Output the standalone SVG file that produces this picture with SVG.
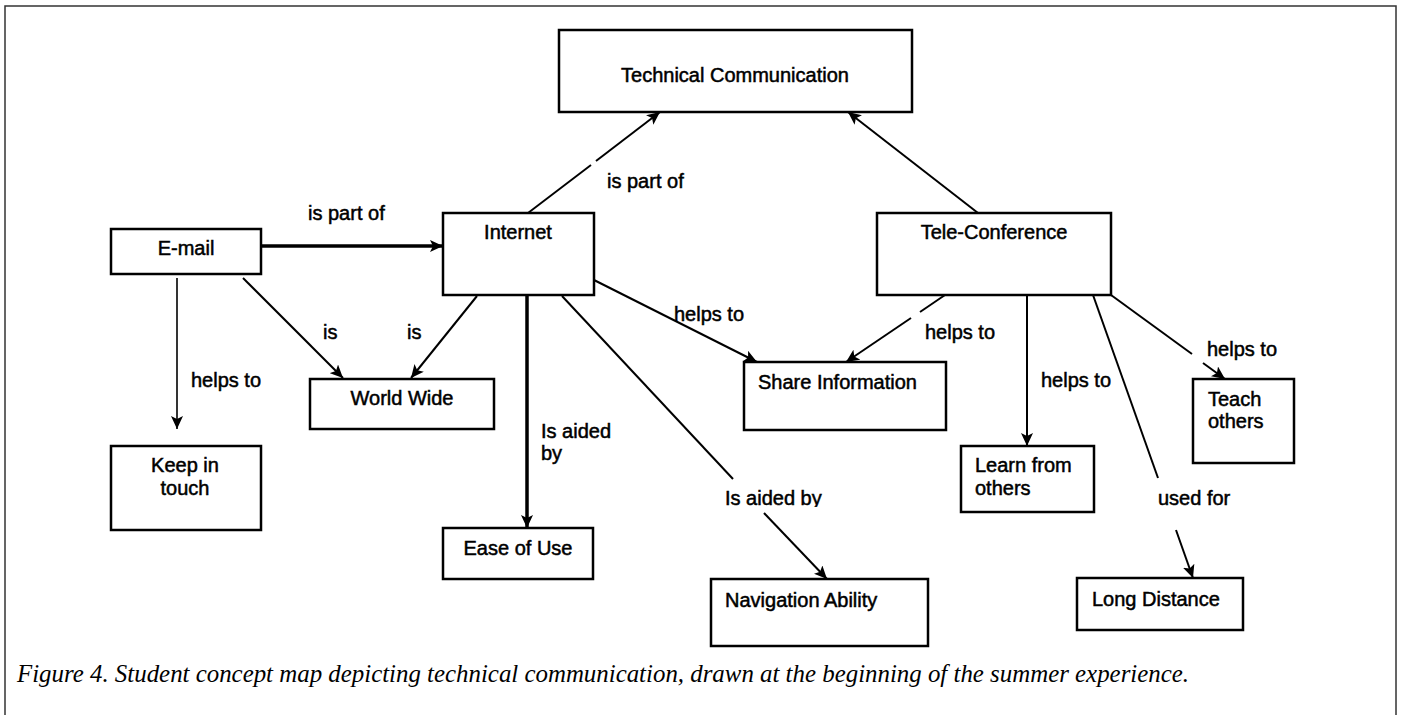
<svg xmlns="http://www.w3.org/2000/svg" width="1401" height="715" viewBox="0 0 1401 715">
  <style>
    .box { fill: #fff; stroke: #000; stroke-width: 2.5; }
    .t { font-family: "Liberation Sans", Arial, sans-serif; font-size: 20px; fill: #000; stroke: #000; stroke-width: 0.5; }
    .c { text-anchor: middle; }
    .ln { fill: none; stroke: #000; stroke-width: 2; }
    .thick { stroke-width: 3.5; }
    .thin { stroke-width: 1.6; }
    .cap { font-family: "Liberation Serif", "Times New Roman", serif; font-style: italic; font-size: 26px; fill: #000; }
  </style>
  <defs>
    <marker id="ah" markerUnits="userSpaceOnUse" markerWidth="14" markerHeight="12" viewBox="0 0 14 12" refX="13" refY="6" orient="auto">
      <path d="M0,0 L13,6 L0,12 L3,6 z" fill="#000"/>
    </marker>
    <clipPath id="cut-aided">
      <rect x="700" y="480" width="150" height="27"/>
    </clipPath>
  </defs>

  <rect width="1401" height="715" fill="#fff"/>
  <!-- outer frame, bottom edge runs off the page -->
  <rect x="5" y="6" width="1391" height="720" fill="none" stroke="#333" stroke-width="1.5"/>

  <!-- connectors -->
  <g id="connectors">
    <line class="ln thick" x1="261" y1="246" x2="443" y2="246" marker-end="url(#ah)"/>
    <line class="ln" x1="528" y1="213" x2="591" y2="165"/>
    <line class="ln" x1="596" y1="161" x2="660" y2="112" marker-end="url(#ah)"/>
    <line class="ln" x1="978" y1="213" x2="848" y2="112" marker-end="url(#ah)"/>
    <line class="ln thin" x1="177" y1="278" x2="177" y2="429" marker-end="url(#ah)"/>
    <line class="ln" x1="243" y1="278" x2="343" y2="378" marker-end="url(#ah)"/>
    <line class="ln" x1="477" y1="296" x2="411" y2="378" marker-end="url(#ah)"/>
    <line class="ln thick" x1="527" y1="296" x2="527" y2="528" marker-end="url(#ah)"/>
    <line class="ln" x1="562" y1="296" x2="733" y2="479"/>
    <line class="ln" x1="764" y1="513" x2="827" y2="579" marker-end="url(#ah)"/>
    <line class="ln" x1="594" y1="280" x2="757" y2="362" marker-end="url(#ah)"/>
    <line class="ln" x1="945" y1="295" x2="920" y2="312"/>
    <line class="ln" x1="911" y1="318" x2="846" y2="362" marker-end="url(#ah)"/>
    <line class="ln" x1="1027" y1="295" x2="1027" y2="446" marker-end="url(#ah)"/>
    <line class="ln" x1="1093" y1="295" x2="1158" y2="478"/>
    <line class="ln" x1="1176" y1="530" x2="1193" y2="578" marker-end="url(#ah)"/>
    <line class="ln" x1="1111" y1="295" x2="1192" y2="354"/>
    <line class="ln" x1="1203" y1="363" x2="1225" y2="379" marker-end="url(#ah)"/>
  </g>

  <!-- connector labels -->
  <g id="labels" class="t">
    <text x="308" y="220">is part of</text>
    <text x="607" y="188">is part of</text>
    <text x="323" y="339">is</text>
    <text x="407" y="339">is</text>
    <text x="191" y="387">helps to</text>
    <text x="674" y="321">helps to</text>
    <text x="925" y="339">helps to</text>
    <text x="1041" y="387">helps to</text>
    <text x="1207" y="356">helps to</text>
    <text x="541" y="438">Is aided</text>
    <text x="541" y="460">by</text>
    <text x="725" y="505" clip-path="url(#cut-aided)">Is aided by</text>
    <text x="1158" y="505">used for</text>
  </g>

  <!-- nodes -->
  <g id="technical-communication">
    <rect class="box" x="559" y="30" width="353" height="82"/>
    <text class="t c" x="735" y="82">Technical Communication</text>
  </g>
  <g id="e-mail">
    <rect class="box" x="111" y="229" width="150" height="45"/>
    <text class="t c" x="186" y="255">E-mail</text>
  </g>
  <g id="internet">
    <rect class="box" x="443" y="213" width="151" height="82"/>
    <text class="t c" x="518" y="239">Internet</text>
  </g>
  <g id="tele-conference">
    <rect class="box" x="877" y="213" width="234" height="82"/>
    <text class="t c" x="994" y="239">Tele-Conference</text>
  </g>
  <g id="world-wide">
    <rect class="box" x="310" y="379" width="184" height="50"/>
    <text class="t c" x="402" y="405">World Wide</text>
  </g>
  <g id="keep-in-touch">
    <rect class="box" x="111" y="446" width="150" height="84"/>
    <text class="t c" x="185" y="472">Keep in</text>
    <text class="t c" x="185" y="495">touch</text>
  </g>
  <g id="ease-of-use">
    <rect class="box" x="443" y="528" width="150" height="51"/>
    <text class="t c" x="518" y="555">Ease of Use</text>
  </g>
  <g id="navigation-ability">
    <rect class="box" x="711" y="579" width="217" height="67"/>
    <text class="t" x="725" y="607">Navigation Ability</text>
  </g>
  <g id="share-information">
    <rect class="box" x="744" y="362" width="202" height="68"/>
    <text class="t" x="758" y="389">Share Information</text>
  </g>
  <g id="learn-from-others">
    <rect class="box" x="961" y="446" width="133" height="66"/>
    <text class="t" x="975" y="472">Learn from</text>
    <text class="t" x="975" y="495">others</text>
  </g>
  <g id="teach-others">
    <rect class="box" x="1193" y="379" width="101" height="84"/>
    <text class="t" x="1208" y="406">Teach</text>
    <text class="t" x="1208" y="428">others</text>
  </g>
  <g id="long-distance">
    <rect class="box" x="1077" y="578" width="166" height="52"/>
    <text class="t" x="1092" y="606">Long Distance</text>
  </g>

  <text class="cap" x="17" y="682" textLength="1172" lengthAdjust="spacingAndGlyphs">Figure 4. Student concept map depicting technical communication, drawn at the beginning of the summer experience.</text>
</svg>
